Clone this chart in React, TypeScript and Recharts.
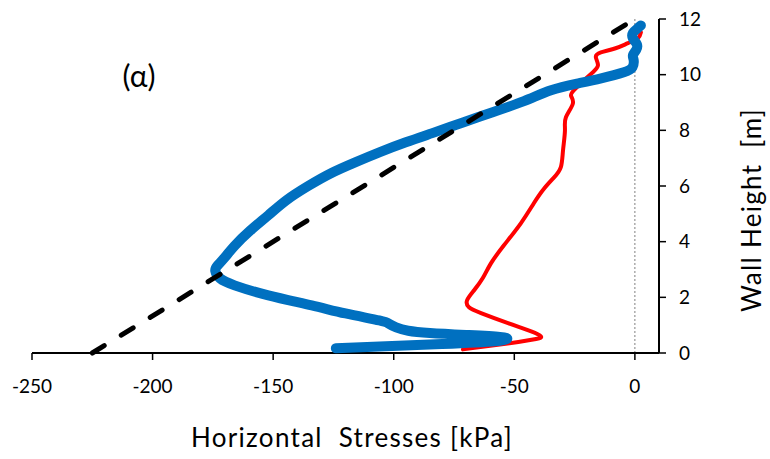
import { ScatterChart, Scatter, XAxis, YAxis, ReferenceLine } from "recharts";

// Horizontal stress profiles along the wall height (kPa vs m).
const blueStress = [
  -124, -80, -58, -53, -56, -70, -85, -94, -99, -102, -106, -120, -134, -152, -166,
  -172, -174, -173, -170, -166, -159.5, -152, -144.5, -135.5, -126, -116, -106, -95,
  -84, -71, -59, -46, -34.8, -24, -14, -4.6, -1, -0.5, -0.8, 0.6, 0.8, -0.8, -0.8,
  1.2, 2.5,
];
const blueHeight = [
  0.17, 0.32, 0.42, 0.5, 0.58, 0.65, 0.72, 0.8, 0.92, 1.05, 1.17, 1.42, 1.71, 2.07,
  2.43, 2.68, 2.95, 3.15, 3.44, 3.85, 4.4, 4.95, 5.49, 6.0, 6.46, 6.85, 7.21, 7.57,
  7.9, 8.29, 8.65, 9.05, 9.44, 9.68, 9.87, 10.09, 10.27, 10.52, 10.7, 10.9, 11.1,
  11.3, 11.5, 11.67, 11.77,
];

const redStress = [
  -71.3, -52, -41, -39, -43, -52.6, -63.8, -68.8, -69.6, -66.7, -63, -59.7, -54.3,
  -47.3, -41.9, -37.7, -33.6, -30.7, -29.8, -29, -28.6, -25.7, -26.5, -24.5, -21.1,
  -17.4, -15.3, -16.2, -14.1, -8, -2.9, 1.2, 2.5,
];
const redHeight = [
  0.13, 0.35, 0.5, 0.6, 0.78, 1.07, 1.43, 1.64, 1.89, 2.25, 2.7, 3.22, 3.87, 4.66,
  5.38, 5.9, 6.3, 6.68, 7.28, 8.0, 8.47, 8.97, 9.26, 9.51, 9.8, 10.09, 10.34, 10.63,
  10.8, 10.95, 11.13, 11.3, 11.52,
];

const k0Stress = [-225, 0];
const k0Height = [0, 12];

const xTicks = [-250, -200, -150, -100, -50, 0];
const yTicks = [0, 2, 4, 6, 8, 10, 12];

const zip = (xs: number[], ys: number[]) => xs.map((x, i) => ({ x, y: ys[i] }));

const FONT = "Lato, 'Open Sans', sans-serif";
const noDot = () => <g />;

export default function App() {
  return (
    <div style={{ position: "absolute", left: 0, top: 0, background: "#fff" }}>
      <ScatterChart
        width={770}
        height={459}
        margin={{ top: 19, right: 51, bottom: 46, left: 32 }}
      >
        <XAxis
          type="number"
          dataKey="x"
          domain={[-250, 10]}
          ticks={xTicks}
          allowDataOverflow
          height={60}
          tickSize={7}
          tickMargin={20}
          axisLine={{ stroke: "#000", strokeWidth: 2 }}
          tickLine={{ stroke: "#000", strokeWidth: 1.5 }}
          tick={{ fill: "#000", fontSize: 19, fontFamily: FONT }}
        />
        <YAxis
          type="number"
          dataKey="y"
          orientation="right"
          domain={[0, 12]}
          ticks={yTicks}
          width={60}
          tickSize={7}
          tickMargin={13}
          axisLine={{ stroke: "#000", strokeWidth: 2 }}
          tickLine={{ stroke: "#000", strokeWidth: 1.5 }}
          tick={{ fill: "#000", fontSize: 19, fontFamily: FONT, textAnchor: "start" }}
        />
        <ReferenceLine x={0} stroke="#808080" strokeWidth={1} strokeDasharray="2 2" />
        <Scatter
          data={zip(redStress, redHeight)}
          fill="#ff0000"
          shape={noDot}
          isAnimationActive={false}
          lineJointType="natural"
          line={{ stroke: "#ff0000", strokeWidth: 4, strokeLinejoin: "round", strokeLinecap: "round" }}
        />
        <Scatter
          data={zip(blueStress, blueHeight)}
          fill="#0070c0"
          shape={noDot}
          isAnimationActive={false}
          lineJointType="natural"
          line={{ stroke: "#0070c0", strokeWidth: 10, strokeLinejoin: "round", strokeLinecap: "round" }}
        />
        <Scatter
          data={zip(k0Stress, k0Height)}
          fill="#000"
          shape={noDot}
          isAnimationActive={false}
          line={{ stroke: "#000", strokeWidth: 5, strokeDasharray: "14 20", strokeLinecap: "round" }}
        />
        <text x={139} y={87} textAnchor="middle" fontSize={30} fontFamily={FONT} fill="#000">
          (α)
        </text>
        <text
          x={352}
          y={447}
          textAnchor="middle"
          fontSize={26}
          letterSpacing={1.3}
          fontFamily={FONT}
          fill="#000"
          style={{ whiteSpace: "pre" }}
        >
          Horizontal  Stresses [kPa]
        </text>
        <text
          x={761}
          y={210}
          textAnchor="middle"
          fontSize={26}
          letterSpacing={1.3}
          fontFamily={FONT}
          fill="#000"
          transform="rotate(-90 761 210)"
          style={{ whiteSpace: "pre" }}
        >
          Wall Height  [m]
        </text>
      </ScatterChart>
    </div>
  );
}
